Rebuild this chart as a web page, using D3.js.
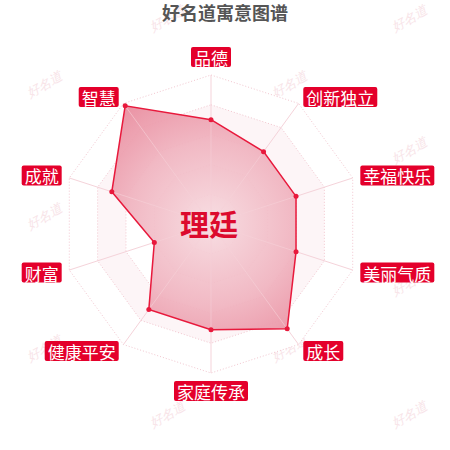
<!DOCTYPE html>
<html>
<head>
<meta charset="utf-8">
<title>好名道寓意图谱</title>
<script src="https://cdn.jsdelivr.net/npm/d3@7"></script>
<style>
  body { margin: 0; background: #fff; }
  svg { display: block; font-family: "Noto Sans CJK SC", "Noto Sans", sans-serif; }
</style>
</head>
<body>
<script>
// data
const indicators = ["品德", "创新独立", "幸福快乐", "美丽气质", "成长", "家庭传承", "健康平安", "财富", "成就", "智慧"];
const values = [70, 60, 60, 60, 87, 71, 71, 40, 70, 98];
const maxValue = 100;
const ringLevels = [20, 40, 60, 80, 100];
const titleText = "好名道寓意图谱";
const nameText = "理廷";
const watermark = "好名道";

const w = 450, h = 450;
const cx = 211, cy = 224, R = 149;

const svg = d3.select("body").append("svg")
  .attr("width", w).attr("height", h);

const defs = svg.append("defs");
const grad = defs.append("radialGradient")
  .attr("id", "fillGrad")
  .attr("gradientUnits", "userSpaceOnUse")
  .attr("cx", cx).attr("cy", cy).attr("r", R);
grad.append("stop").attr("offset", "0%").attr("stop-color", "#f7dbe0");
grad.append("stop").attr("offset", "55%").attr("stop-color", "#f0b3bf");
grad.append("stop").attr("offset", "100%").attr("stop-color", "#e8879a");

// scales
const rScale = d3.scaleLinear().domain([0, maxValue]).range([0, R]);
const angle = d3.scaleLinear().domain([0, indicators.length]).range([0, 2 * Math.PI]);
const px = (i, v) => cx + rScale(v) * Math.sin(angle(i));
const py = (i, v) => cy - rScale(v) * Math.cos(angle(i));

// watermarks (decoration)
const wm = svg.append("g");
for (let r = 0; r < 7; r++) {
  const y = 20 + r * 66;
  const xs = r % 2 === 0 ? [168, 410] : [45, 290];
  for (const x of xs) {
    wm.append("text")
      .attr("transform", `translate(${x},${y}) rotate(-30)`)
      .attr("text-anchor", "middle")
      .attr("dominant-baseline", "middle")
      .attr("font-size", 13)
      .attr("font-family", "serif")
      .attr("font-style", "italic")
      .attr("fill", "#f8e4e8")
      .text(watermark);
  }
}

// split areas + rings
const ringPts = lv => indicators.map((d, i) => [px(i, lv), py(i, lv)]);
const grid = svg.append("g");
ringLevels.slice().reverse().forEach((lv, k) => {
  grid.append("polygon")
    .attr("points", ringPts(lv).map(p => p.join(",")).join(" "))
    .attr("fill", k % 2 === 0 ? "#fff" : "#fdf5f7")
    .attr("stroke", "#f2c6cf")
    .attr("stroke-width", 1)
    .attr("stroke-dasharray", "1,2");
});

// axis spokes
grid.selectAll("line.spoke")
  .data(indicators)
  .enter()
  .append("line")
  .attr("x1", cx).attr("y1", cy)
  .attr("x2", (d, i) => px(i, maxValue))
  .attr("y2", (d, i) => py(i, maxValue))
  .attr("stroke", "#f5d3da")
  .attr("stroke-width", 1);

// series area
const line = d3.line()
  .x((d, i) => px(i, d))
  .y((d, i) => py(i, d))
  .curve(d3.curveLinearClosed);

svg.append("path")
  .datum(values)
  .attr("d", line)
  .attr("fill", "url(#fillGrad)")
  .attr("fill-opacity", 0.92)
  .attr("stroke", "#e8193c")
  .attr("stroke-width", 1.5);

// spokes faintly visible through area
svg.append("g").selectAll("line")
  .data(indicators)
  .enter()
  .append("line")
  .attr("x1", cx).attr("y1", cy)
  .attr("x2", (d, i) => px(i, Math.min(values[i], maxValue)))
  .attr("y2", (d, i) => py(i, Math.min(values[i], maxValue)))
  .attr("stroke", "#f6d3da")
  .attr("stroke-opacity", 0.6)
  .attr("stroke-width", 1);

svg.append("g").selectAll("circle")
  .data(values)
  .enter()
  .append("circle")
  .attr("cx", (d, i) => px(i, d))
  .attr("cy", (d, i) => py(i, d))
  .attr("r", 2.5)
  .attr("fill", "#e8193c");

// indicator labels
const gap = 8;
const labels = svg.append("g");
indicators.forEach((name, i) => {
  const ax = px(i, maxValue) + gap * Math.sin(angle(i));
  const ay = py(i, maxValue) - gap * Math.cos(angle(i));
  const g = labels.append("g");
  const t = g.append("text")
    .attr("font-size", 17)
    .attr("fill", "#fff")
    .attr("dominant-baseline", "central")
    .text(name);
  const bw = t.node().getComputedTextLength() + 6;
  const bh = 20;
  const dx = ax - cx;
  let left, top;
  if (Math.abs(dx) < 1) {
    left = ax - bw / 2;
    top = ay < cy ? ay - bh : ay;
  } else {
    left = dx > 0 ? ax : ax - bw;
    top = ay - bh / 2;
  }
  g.insert("rect", "text")
    .attr("x", left).attr("y", top)
    .attr("width", bw).attr("height", bh)
    .attr("rx", 2)
    .attr("fill", "#e4002b");
  t.attr("x", left + 3).attr("y", top + bh / 2 + 0.5);
});

// title
svg.append("text")
  .attr("x", w / 2).attr("y", 12)
  .attr("text-anchor", "middle")
  .attr("dominant-baseline", "central")
  .attr("font-size", 18)
  .attr("font-weight", "bold")
  .attr("fill", "#555")
  .text(titleText);

// center name
svg.append("text")
  .attr("x", cx - 2).attr("y", cy - 1)
  .attr("text-anchor", "middle")
  .attr("dominant-baseline", "central")
  .attr("font-size", 29)
  .attr("font-weight", "bold")
  .attr("fill", "#dc0a2d")
  .text(nameText);
</script>
</body>
</html>
